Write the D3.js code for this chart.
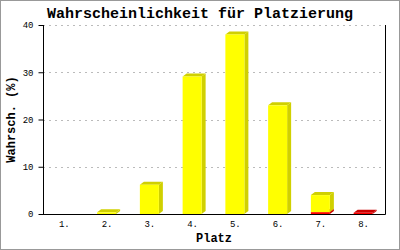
<!DOCTYPE html>
<html>
<head>
<meta charset="utf-8">
<script src="https://cdn.jsdelivr.net/npm/d3@7"></script>
<style>
    body { margin: 0; background: #fff; }
    svg { display: block; }
</style>
</head>
<body>
<svg id="chart" width="400" height="250"></svg>
<script>
const PLACES = ["1.", "2.", "3.", "4.", "5.", "6.", "7.", "8."];
const RED_VALUES = [0, 0, 0, 0, 0, 0, 0.4, 0.25];
const YELLOW_VALUES = [0, 0.35, 6.2, 29.1, 38.0, 23.0, 3.6, 0];
const Y_TICKS = [0, 10, 20, 30, 40];

const SVG = d3.select("#chart");
const MONO = "'Liberation Mono', 'DejaVu Sans Mono', monospace";
const LEFT = 43, RIGHT = 385, TOP = 25, BOTTOM = 214;
const DX = 4, DY = 3;

SVG.append("rect")
    .attr("x", 0.5).attr("y", 0.5)
    .attr("width", 399).attr("height", 249)
    .attr("fill", "#fff")
    .attr("stroke", "#999");

const x = d3.scaleBand().domain(PLACES).range([LEFT, RIGHT]).padding(0);
const y = d3.scaleLinear().domain([0, 40]).range([BOTTOM, TOP]);
const barW = 19;

// grid
SVG.append("g")
    .selectAll("line")
    .data(Y_TICKS.filter(t => t > 0))
    .join("line")
    .attr("x1", LEFT).attr("x2", RIGHT)
    .attr("y1", d => Math.round(y(d)) + 0.5)
    .attr("y2", d => Math.round(y(d)) + 0.5)
    .attr("stroke", "#bbb")
    .attr("stroke-dasharray", "2,4");

// stacked 3d bars
const stacks = PLACES.map((p, i) => ({
    place: p,
    segments: [
        { lo: 0, hi: RED_VALUES[i], front: "#ff0000", shade: "#cc0000" },
        { lo: RED_VALUES[i], hi: RED_VALUES[i] + YELLOW_VALUES[i], front: "#ffff00", shade: "#d0d000" }
    ].filter(s => s.hi > s.lo)
}));

const bars = SVG.append("g");
stacks.forEach(st => {
    const x0 = x(st.place) + x.bandwidth() / 2 - 10;
    const x1 = x0 + barW;
    st.segments.forEach(s => {
        const yb = y(s.lo), yt = y(s.hi);
        bars.append("polygon")
            .attr("points", [[x1, yt], [x1 + DX, yt - DY], [x1 + DX, yb - DY], [x1, yb]].join(" "))
            .attr("fill", s.shade);
        bars.append("polygon")
            .attr("points", [[x0, yt], [x0 + DX, yt - DY], [x1 + DX, yt - DY], [x1, yt]].join(" "))
            .attr("fill", s.shade);
        bars.append("rect")
            .attr("x", x0).attr("y", yt)
            .attr("width", barW).attr("height", yb - yt)
            .attr("fill", s.front);
    });
});

// axes
const yAxis = SVG.append("g")
    .attr("transform", `translate(${LEFT + 0.5},0)`)
    .call(d3.axisLeft(y).tickValues(Y_TICKS).tickSize(5).tickPadding(5));
yAxis.select(".domain").attr("d", `M0,${TOP}V${BOTTOM + 0.5}`).attr("stroke", "#000");
yAxis.selectAll("text").attr("font-family", MONO).attr("font-size", 9).attr("fill", "#000");

const xAxis = SVG.append("g")
    .attr("transform", `translate(0,${BOTTOM + 0.5})`)
    .call(d3.axisBottom(x).tickSize(0).tickPadding(6));
xAxis.select(".domain").attr("d", `M${LEFT},0H${RIGHT + 0.5}`).attr("stroke", "#000");
xAxis.selectAll("text").attr("font-family", MONO).attr("font-size", 9).attr("fill", "#000");

SVG.append("line")
    .attr("x1", RIGHT + 0.5).attr("x2", RIGHT + 0.5)
    .attr("y1", TOP).attr("y2", BOTTOM + 0.5)
    .attr("stroke", "#000");

// titles
SVG.append("text")
    .attr("x", 200).attr("y", 18)
    .attr("text-anchor", "middle")
    .attr("font-family", MONO).attr("font-weight", "bold").attr("font-size", 15)
    .text("Wahrscheinlichkeit für Platzierung");

SVG.append("text")
    .attr("x", (LEFT + RIGHT) / 2).attr("y", 242)
    .attr("text-anchor", "middle")
    .attr("font-family", MONO).attr("font-weight", "bold").attr("font-size", 12)
    .text("Platz");

SVG.append("text")
    .attr("transform", `translate(15,${(TOP + BOTTOM) / 2}) rotate(-90)`)
    .attr("text-anchor", "middle")
    .attr("font-family", MONO).attr("font-weight", "bold").attr("font-size", 12)
    .text("Wahrsch. (%)");
</script>
</body>
</html>
